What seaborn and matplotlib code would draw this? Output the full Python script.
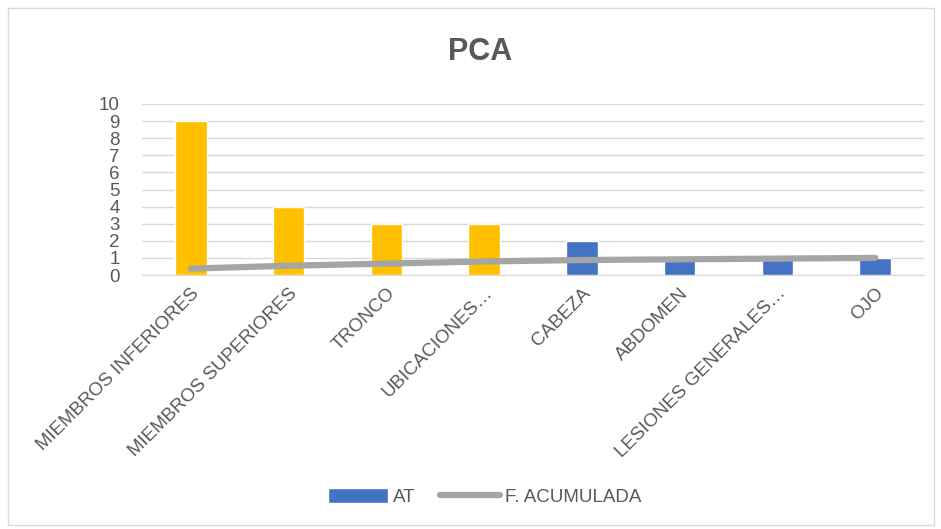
import matplotlib
matplotlib.use("Agg")
import matplotlib.pyplot as plt
from matplotlib.patches import Patch, Rectangle
from matplotlib.lines import Line2D
import numpy as np
import pandas as pd
import seaborn as sns

categories = ["MIEMBROS INFERIORES", "MIEMBROS SUPERIORES", "TRONCO", "UBICACIONES…",
              "CABEZA", "ABDOMEN", "LESIONES GENERALES…", "OJO"]
at_values = [9, 4, 3, 3, 2, 1, 1, 1]
f_acumulada = [0.375, 0.542, 0.667, 0.792, 0.875, 0.917, 0.958, 1.0]
bar_colors = ["#FFC000", "#FFC000", "#FFC000", "#FFC000",
              "#4472C4", "#4472C4", "#4472C4", "#4472C4"]
y_ticks = list(range(0, 11))

sns.set_style("white")
plt.rcParams["font.family"] = ["Liberation Sans", "DejaVu Sans"]
text_color = "#595959"

df = pd.DataFrame({"cat": categories, "AT": at_values})

fig = plt.figure(figsize=(9.41, 5.29), dpi=100)
W, H = 941, 529
ax = fig.add_axes([142 / W, 1 - 275 / H, (924 - 142) / W, (275 - 104) / H])

sns.barplot(data=df, x="cat", y="AT", hue="cat", palette=bar_colors,
            legend=False, width=0.32, ax=ax, saturation=1, zorder=3)
ax.plot(range(len(categories)), f_acumulada, color="#A5A5A5", lw=4.5,
        solid_capstyle="round", zorder=4)

ax.set_ylim(0, 10)
ax.set_xlim(-0.5, len(categories) - 0.5)
ax.set_yticks(y_ticks)
ax.yaxis.grid(True, color="#D9D9D9", lw=1, zorder=0)
ax.set_xlabel("")
ax.set_ylabel("")
for s in ["top", "right", "left"]:
    ax.spines[s].set_visible(False)
ax.spines["bottom"].set_color("#D9D9D9")
ax.tick_params(axis="both", length=0, colors=text_color, labelsize=13.5)
ax.tick_params(axis="y", pad=16)
ax.tick_params(axis="x", pad=7)
plt.setp(ax.get_xticklabels(), rotation=45, ha="right", rotation_mode="anchor",
         fontsize=13.5)

fig.text(0.51, 1 - 52 / H, "PCA", ha="center", va="center", fontsize=22,
         fontweight="bold", color=text_color)

handles = [Patch(facecolor="#4472C4", label="AT"),
           Line2D([0], [0], color="#A5A5A5", lw=4.5, solid_capstyle="round",
                  label="F. ACUMULADA")]
leg = fig.legend(handles=handles, loc="center", bbox_to_anchor=(0.515, 1 - 497 / H),
                 ncol=2, frameon=False, fontsize=13.5, handlelength=3.2,
                 handleheight=0.8, columnspacing=1.3, handletextpad=0.25)
for t in leg.get_texts():
    t.set_color(text_color)

fig.patches.append(Rectangle((8 / W, 4 / H), 926 / W, 1 - 8 / H - 4 / H,
                             transform=fig.transFigure, fill=False,
                             edgecolor="#D9D9D9", lw=1))

fig.savefig("out.png", dpi=100)
